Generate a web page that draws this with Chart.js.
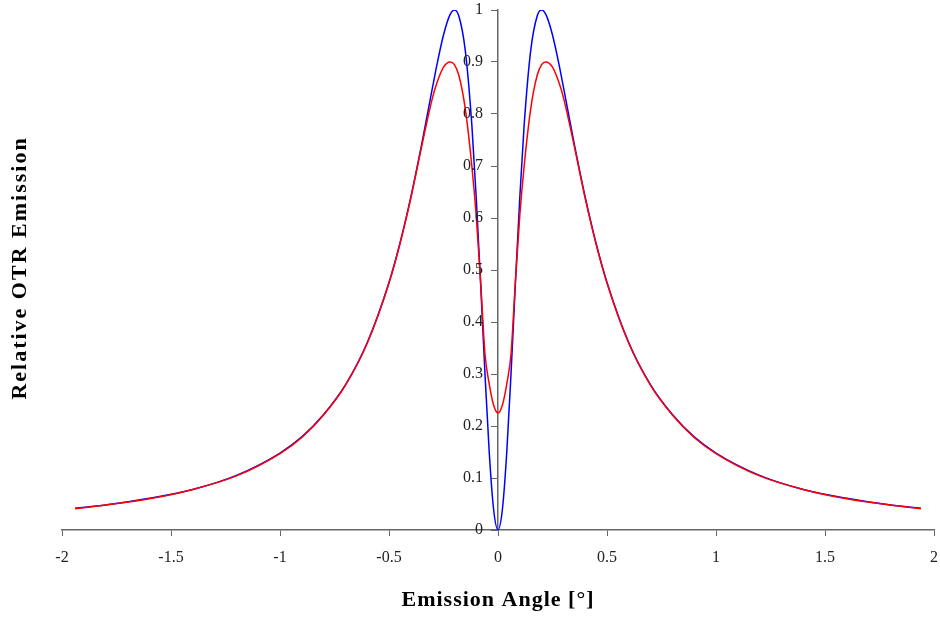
<!DOCTYPE html>
<html>
<head>
<meta charset="utf-8">
<title>Relative OTR Emission</title>
<script src="https://cdn.jsdelivr.net/npm/chart.js@4.4.0/dist/chart.umd.min.js"></script>
<style>
  html, body { margin: 0; padding: 0; background: #fff; }
  #wrap { width: 940px; height: 617px; position: relative; }
</style>
</head>
<body>
<div id="wrap"><canvas id="otrChart"></canvas></div>
<script>
// Emission angle in degrees (shared by both curves)
const angles = [-1.94, -1.8, -1.6, -1.4, -1.2, -1.0, -0.9, -0.8, -0.7, -0.6, -0.5, -0.45, -0.4, -0.35,
  -0.3, -0.28, -0.25, -0.22, -0.2, -0.18, -0.15, -0.12, -0.1, -0.08, -0.06, -0.04, -0.02, 0,
  0.02, 0.04, 0.06, 0.08, 0.1, 0.12, 0.15, 0.18, 0.2, 0.22, 0.25, 0.28, 0.3,
  0.35, 0.4, 0.45, 0.5, 0.6, 0.7, 0.8, 0.9, 1.0, 1.2, 1.4, 1.6, 1.8, 1.94];

// Blue curve
const blueValues = [0.042, 0.048, 0.061, 0.078, 0.105, 0.148, 0.179, 0.222, 0.279, 0.36, 0.476, 0.551, 0.64, 0.742,
  0.852, 0.895, 0.952, 0.991, 1.0, 0.989, 0.922, 0.779, 0.64, 0.476, 0.303, 0.148, 0.039, 0,
  0.039, 0.148, 0.303, 0.476, 0.64, 0.779, 0.922, 0.989, 1.0, 0.991, 0.952, 0.895, 0.852,
  0.742, 0.64, 0.551, 0.476, 0.36, 0.279, 0.222, 0.179, 0.148, 0.105, 0.078, 0.061, 0.048, 0.042];

// Red curve
const redValues = [0.041, 0.048, 0.06, 0.078, 0.104, 0.147, 0.178, 0.221, 0.278, 0.359, 0.475, 0.55, 0.638, 0.738,
  0.832, 0.86, 0.89, 0.9, 0.895, 0.875, 0.81, 0.70, 0.605, 0.48, 0.34, 0.28, 0.24, 0.225,
  0.24, 0.28, 0.34, 0.48, 0.605, 0.70, 0.81, 0.875, 0.895, 0.9, 0.89, 0.86, 0.832,
  0.738, 0.638, 0.55, 0.475, 0.359, 0.278, 0.221, 0.178, 0.147, 0.104, 0.078, 0.06, 0.048, 0.041];

const xTitle = 'Emission Angle [°]';
const yTitle = 'Relative OTR Emission';

const axisColor = '#666';
const serif = '"Liberation Serif", "Times New Roman", serif';
const tickFont = { family: serif, size: 16 };

function fmt(v) {
  return parseFloat(v.toFixed(2)).toString();
}

// y axis sits in the middle: its labels and both titles are drawn here
const textPlugin = {
  id: 'otrText',
  beforeDraw(chart) {
    const c = chart.ctx;
    c.save();
    c.fillStyle = '#fff';
    c.fillRect(0, 0, chart.width, chart.height);
    c.restore();
  },
  afterDraw(chart) {
    const c = chart.ctx;
    const xs = chart.scales.x;
    const ys = chart.scales.y;
    const axisX = xs.getPixelForValue(0);

    // y tick labels, left of the centre axis
    c.save();
    c.font = '16px ' + serif;
    c.fillStyle = '#222';
    c.textAlign = 'right';
    c.textBaseline = 'middle';
    ys.ticks.forEach(t => {
      c.fillText(fmt(t.value), axisX - 15, ys.getPixelForValue(t.value));
    });
    c.restore();

    // x title
    c.save();
    c.font = 'bold 22px ' + serif;
    c.letterSpacing = '1px';
    c.fillStyle = '#000';
    c.textAlign = 'center';
    c.textBaseline = 'middle';
    c.fillText(xTitle, axisX, 600);
    c.restore();

    // y title
    c.save();
    c.translate(20, 268);
    c.rotate(-Math.PI / 2);
    c.font = 'bold 22px ' + serif;
    c.letterSpacing = '2px';
    c.fillStyle = '#000';
    c.textAlign = 'center';
    c.textBaseline = 'middle';
    c.fillText(yTitle, 0, 0);
    c.restore();
  }
};

const ctx = document.getElementById('otrChart').getContext('2d');
new Chart(ctx, {
  type: 'line',
  data: {
    datasets: [
      {
        label: 'Red',
        data: angles.map((a, i) => ({ x: a, y: redValues[i] })),
        borderColor: '#FF0000',
        borderWidth: 1.5,
        pointRadius: 0,
        cubicInterpolationMode: 'monotone',
        fill: false
      },
      {
        label: 'Blue',
        data: angles.map((a, i) => ({ x: a, y: blueValues[i] })),
        borderColor: '#0000FF',
        borderWidth: 1.5,
        pointRadius: 0,
        cubicInterpolationMode: 'monotone',
        fill: false
      }
    ]
  },
  options: {
    responsive: true,
    maintainAspectRatio: false,
    animation: false,
    layout: { padding: { left: 62, right: 6, top: 10, bottom: 51 } },
    plugins: {
      legend: { display: false },
      tooltip: { enabled: false }
    },
    scales: {
      x: {
        type: 'linear',
        min: -2,
        max: 2,
        ticks: {
          stepSize: 0.5,
          color: '#222',
          font: tickFont,
          padding: 12,
          maxRotation: 0,
          callback: v => fmt(v)
        },
        grid: {
          drawOnChartArea: false,
          drawTicks: true,
          tickLength: 6,
          tickColor: axisColor
        },
        border: { color: axisColor, width: 1.5 },
        afterFit(scale) {
          scale.paddingLeft = 0;
          scale.paddingRight = 0;
          scale.height = 36;
        }
      },
      y: {
        type: 'linear',
        position: { x: 0 },
        min: 0,
        max: 1,
        ticks: {
          stepSize: 0.1,
          display: false
        },
        grid: {
          drawOnChartArea: false,
          drawTicks: true,
          tickLength: 6,
          tickColor: axisColor
        },
        border: { color: axisColor, width: 1.5 },
        afterFit(scale) {
          scale.paddingTop = 0;
          scale.paddingBottom = 0;
        }
      }
    }
  },
  plugins: [textPlugin]
});
</script>
</body>
</html>
